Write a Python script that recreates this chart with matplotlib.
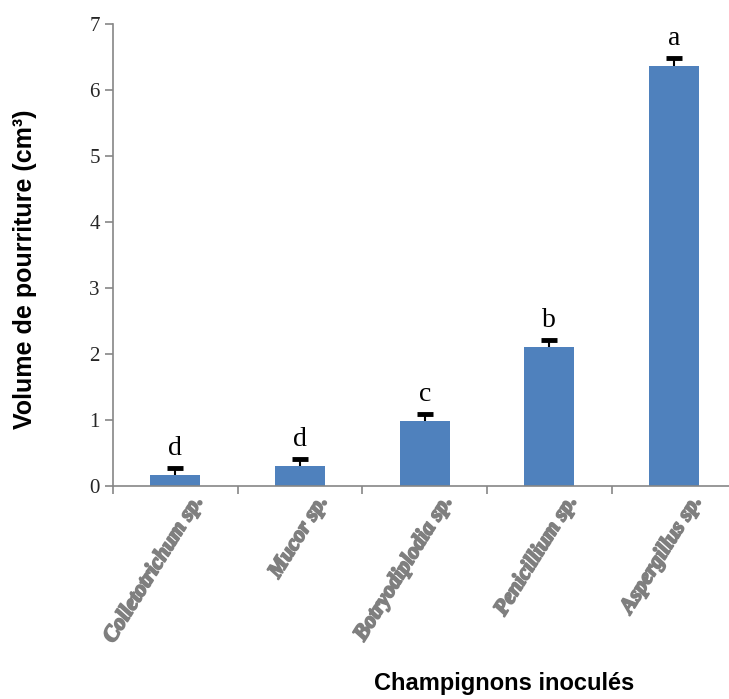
import matplotlib
matplotlib.use("Agg")
import matplotlib.pyplot as plt
import matplotlib.patheffects as pe

# rot volume per inoculated fungus, with standard error and group letters
fungi = ["Colletotrichum sp.", "Mucor sp.", "Botryodiplodia sp.", "Penicillium sp.", "Aspergillus sp."]
volume = [0.17, 0.30, 0.98, 2.10, 6.37]
err = [0.10, 0.11, 0.11, 0.11, 0.11]
groups = ["d", "d", "c", "b", "a"]

fig = plt.figure(figsize=(7.29, 6.99), dpi=100)
ax = fig.add_axes([0.155, 0.3047, 0.855, 0.661])

x = list(range(len(fungi)))
tops = [v + e for v, e in zip(volume, err)]
ax.bar(x, volume, width=0.4, color="#4F81BD", zorder=2)
# upper error bars only
ax.vlines(x, volume, tops, color="black", linewidth=1.5, zorder=3)
ax.plot(x, tops, linestyle="none", marker="_", markersize=11, markeredgewidth=3.5,
        color="black", zorder=3)

for xi, t, g in zip(x, tops, groups):
    ax.annotate(g, (xi, t), xytext=(0, 5), textcoords="offset points",
                ha="center", va="bottom", fontsize=20, family="Liberation Serif")

ax.set_xlim(-0.5, 4.5)
ax.set_ylim(0, 7)
ax.set_yticks(range(8))
ax.set_yticklabels([str(i) for i in range(8)], family="Liberation Serif", fontsize=15, color="#262626")

# category boundaries carry the ticks, names sit under each bar
ax.set_xticks([i - 0.5 for i in range(len(fungi) + 1)])
ax.set_xticklabels([])
ax.tick_params(axis="x", length=6, color="#868686", width=1.2)
ax.tick_params(axis="y", length=6, color="#868686", width=1.2, direction="out")
heavy = [pe.withStroke(linewidth=1.3, foreground="#7F7F7F")]
for xi, name in zip(x, fungi):
    ax.text(xi + 0.12, -0.1, name, rotation=58, ha="right", va="top",
            rotation_mode="anchor", fontsize=16, fontweight="bold", fontstyle="italic",
            family="Liberation Serif", color="#7F7F7F", path_effects=heavy)

for side in ["top", "right"]:
    ax.spines[side].set_visible(False)
for side in ["left", "bottom"]:
    ax.spines[side].set_color("#868686")
    ax.spines[side].set_linewidth(1.2)

ax.set_ylabel("Volume de pourriture (cm³)", family="Liberation Sans", fontsize=18,
              fontweight="bold")
ax.yaxis.set_label_coords(-0.122, 0.47)
fig.text(0.692, 0.006, "Champignons inoculés", ha="center", va="bottom",
         family="Liberation Sans", fontsize=17, fontweight="bold")

fig.savefig("out.png", dpi=100)
